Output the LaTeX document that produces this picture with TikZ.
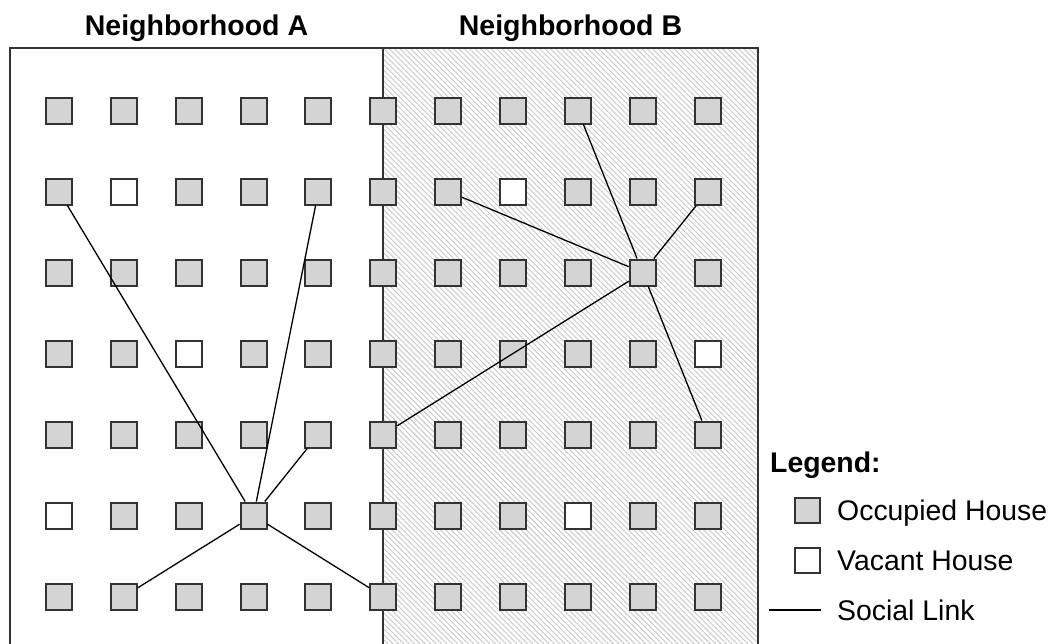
\documentclass[tikz,border=0pt]{standalone}
\usepackage{fontspec}
\setmainfont{Liberation Sans}
\usepackage{xcolor}
\usepackage{tikz}
\usetikzlibrary{patterns.meta, positioning}

\definecolor{housegray}{HTML}{D4D4D4}
\definecolor{framegray}{HTML}{333333}

% vacant houses (column-row)
\tikzset{
    v2-2/.style={vacant}, v8-2/.style={vacant},
    v3-4/.style={vacant}, v11-4/.style={vacant},
    v1-6/.style={vacant}, v9-6/.style={vacant}
}

\begin{document}
\begin{tikzpicture}[
    x=1pt, y=-1pt,
    house/.style={draw=framegray, line width=2pt, fill=housegray, minimum size=26pt, inner sep=0pt},
    vacant/.style={fill=white},
    title/.style={font=\fontsize{28.5}{32}\selectfont\bfseries, anchor=base},
    legtext/.style={font=\fontsize{28.4}{32}\selectfont, anchor=base west, inner sep=0pt},
    link/.style={line width=1.3pt, black}
]
    \useasboundingbox (0,0) rectangle (1052,643);

    % neighborhoods
    \fill[pattern={Lines[angle=-45, distance=3.8pt, line width=0.9pt]}, pattern color=black!22] (383,48) rectangle (758,645);
    \draw[framegray, line width=2pt] (10,645) |- (758,48) -- (758,645);
    \draw[framegray, line width=2pt] (383,48) -- (383,645);

    \node (titleA) [title] at (196.5,35) {Neighborhood A};
    \node (titleB) [title] at (570.5,35) {Neighborhood B};

    % houses
    \foreach \r in {1,...,7}
        \foreach \c in {1,...,11}
            \node (h\c-\r) [house, v\c-\r/.try] at ({59+64.85*(\c-1)}, {110.5+81*(\r-1)}) {};

    % social links
    \path [link] (h4-6) edge (h1-2) edge (h5-2) edge (h5-5) edge (h2-7) edge (h6-7);
    \path [link] (h10-3) edge (h9-1) edge (h7-2) edge (h11-2) edge (h6-5) edge (h11-5);

    % legend
    \node (legend) [legtext, font=\fontsize{28.4}{32}\selectfont\bfseries] at (770,472) {Legend:};
    \node (occ) [house, minimum size=25pt] at (807.5,510) {};
    \node (occtext) [legtext] at (837,520) {Occupied House};
    \node (vac) [house, vacant, minimum size=25pt] at (807.5,560) {};
    \node (vactext) [legtext] at (837,570) {Vacant House};
    \coordinate (lnkA) at (769,610);
    \coordinate (lnkB) at (821,610);
    \draw [link] (lnkA) -- (lnkB);
    \node (lnktext) [legtext] at (837,620) {Social Link};
\end{tikzpicture}
\end{document}
